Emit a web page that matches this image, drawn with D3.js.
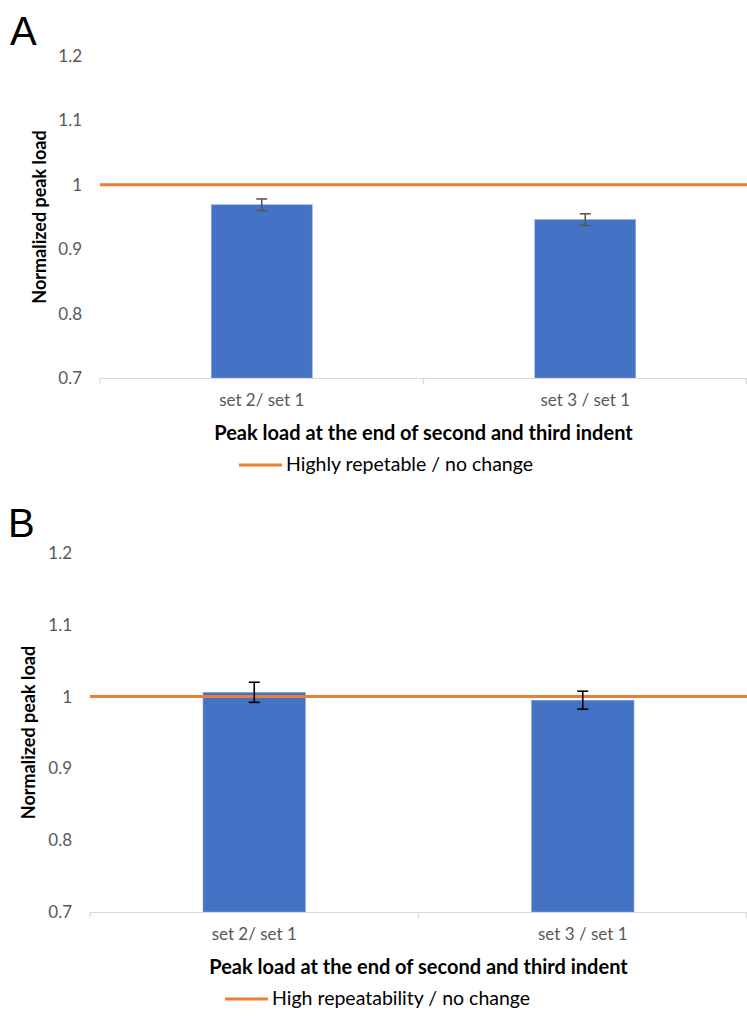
<!DOCTYPE html>
<html>
<head>
<meta charset="utf-8">
<script src="https://cdn.jsdelivr.net/npm/d3@7"></script>
<style>
  body { margin: 0; background: #fff; }
  svg { display: block; font-family: Lato, "Open Sans", sans-serif; }
</style>
</head>
<body>
<div id="chart"></div>
<script>
// data
var categories = ["set 2/ set 1", "set 3 / set 1"];
var yTicks = [0.7, 0.8, 0.9, 1, 1.1, 1.2];
var referenceValue = 1;

var valuesA = [0.969, 0.946];
var errorsA = [0.009, 0.009];
var valuesB = [1.006, 0.995];
var errorsB = [0.014, 0.0125];

var legendA = "Highly repetable / no change";
var legendB = "High repeatability / no change";
var yTitle = "Normalized peak load";
var xTitle = "Peak load at the end of second and third indent";

var svgWidth = 747
var svgHeight = 1020

var svg = d3.select("#chart")
    .append("svg")
    .attr("width", svgWidth)
    .attr("height", svgHeight);

// one panel of the figure
function drawPanel(p) {
    var g = svg.append("g");

    var x = d3.scaleBand()
        .domain(categories)
        .range([p.left, svgWidth]);

    var y = d3.scaleLinear()
        .domain([0.7, 1.2])
        .range([p.bottom, p.top]);

    var barW = x.bandwidth() * 0.312;

    // panel letter
    g.append("text")
        .attr("x", p.letterX)
        .attr("y", p.letterY)
        .attr("font-size", 40)
        .attr("font-family", "Liberation Sans, Arial, sans-serif")
        .attr("fill", "#000")
        .text(p.letter);

    // y axis labels
    var yAxis = g.append("g")
        .attr("transform", `translate(${p.left}, 0)`)
        .call(d3.axisLeft(y).tickValues(yTicks).tickSize(0).tickPadding(18)
            .tickFormat(d => +d.toFixed(1)));
    yAxis.select(".domain").remove();
    yAxis.selectAll("text")
        .attr("font-size", 17)
        .attr("font-family", "Lato, sans-serif")
        .attr("fill", "#595959");

    // bars
    g.selectAll(".bar")
        .data(p.values)
        .enter()
        .append("rect")
        .attr("class", "bar")
        .attr("x", (d, i) => x(categories[i]) + x.bandwidth() / 2 - barW / 2)
        .attr("y", d => y(d))
        .attr("width", barW)
        .attr("height", d => y(0.7) - y(d))
        .attr("fill", "#4472C4")
        .attr("stroke", "#8faadc")
        .attr("stroke-width", 0.6);

    // x axis line with boundary ticks
    var xAxis = g.append("g")
        .attr("transform", `translate(0, ${y(0.7)})`)
        .call(d3.axisBottom(x).tickSize(0).tickPadding(16));
    xAxis.select(".domain")
        .attr("stroke", "#d9d9d9")
        .attr("stroke-width", 1.2);
    xAxis.selectAll("text")
        .attr("font-size", 17)
        .attr("font-family", "Lato, sans-serif")
        .attr("fill", "#595959");

    var bounds = [x(categories[0]), x(categories[1]), svgWidth - 1];
    g.selectAll(".xtick")
        .data(bounds)
        .enter()
        .append("line")
        .attr("x1", d => d).attr("x2", d => d)
        .attr("y1", y(0.7)).attr("y2", y(0.7) + 6)
        .attr("stroke", "#d9d9d9")
        .attr("stroke-width", 1.2);

    // reference line
    g.append("line")
        .attr("x1", p.left)
        .attr("x2", svgWidth)
        .attr("y1", y(referenceValue))
        .attr("y2", y(referenceValue))
        .attr("stroke", "#ED7D31")
        .attr("stroke-width", 3);

    // error bars
    var eb = g.selectAll(".err")
        .data(p.values)
        .enter()
        .append("g")
        .attr("class", "err")
        .attr("stroke", p.errColor)
        .attr("stroke-width", 1.6);
    eb.append("line")
        .attr("x1", (d, i) => x(categories[i]) + x.bandwidth() / 2)
        .attr("x2", (d, i) => x(categories[i]) + x.bandwidth() / 2)
        .attr("y1", (d, i) => y(d + p.errors[i]))
        .attr("y2", (d, i) => y(d - p.errors[i]));
    eb.append("line")
        .attr("x1", (d, i) => x(categories[i]) + x.bandwidth() / 2 - 5.5)
        .attr("x2", (d, i) => x(categories[i]) + x.bandwidth() / 2 + 5.5)
        .attr("y1", (d, i) => y(d + p.errors[i]))
        .attr("y2", (d, i) => y(d + p.errors[i]));
    eb.append("line")
        .attr("x1", (d, i) => x(categories[i]) + x.bandwidth() / 2 - 5.5)
        .attr("x2", (d, i) => x(categories[i]) + x.bandwidth() / 2 + 5.5)
        .attr("y1", (d, i) => y(d - p.errors[i]))
        .attr("y2", (d, i) => y(d - p.errors[i]));

    // y axis title
    g.append("text")
        .attr("transform", `translate(${p.yTitleX}, ${(p.top + p.bottom) / 2}) rotate(-90)`)
        .attr("text-anchor", "middle")
        .attr("font-size", 18)
        .attr("font-weight", "bold")
        .attr("fill", "#000")
        .text(yTitle);

    // x axis title
    g.append("text")
        .attr("x", (p.left + svgWidth) / 2)
        .attr("y", p.bottom + 62)
        .attr("text-anchor", "middle")
        .attr("font-size", 20)
        .attr("font-weight", "bold")
        .attr("fill", "#000")
        .text(xTitle);

    // legend
    var lx = p.legendX;
    var ly = p.bottom + 87;
    g.append("line")
        .attr("x1", lx).attr("x2", lx + 43)
        .attr("y1", ly).attr("y2", ly)
        .attr("stroke", "#ED7D31")
        .attr("stroke-width", 3);
    g.append("text")
        .attr("x", lx + 47)
        .attr("y", ly + 6)
        .attr("font-size", 19.5)
        .attr("fill", "#000")
        .text(p.legend);
}

drawPanel({
    letter: "A", letterX: 10, letterY: 45,
    left: 100, top: 56, bottom: 378,
    values: valuesA, errors: errorsA, errColor: "#595959",
    yTitleX: 46, legendX: 239, legend: legendA
});

drawPanel({
    letter: "B", letterX: 8, letterY: 537,
    left: 90, top: 553, bottom: 912,
    values: valuesB, errors: errorsB, errColor: "#000",
    yTitleX: 35, legendX: 225, legend: legendB
});
</script>
</body>
</html>
